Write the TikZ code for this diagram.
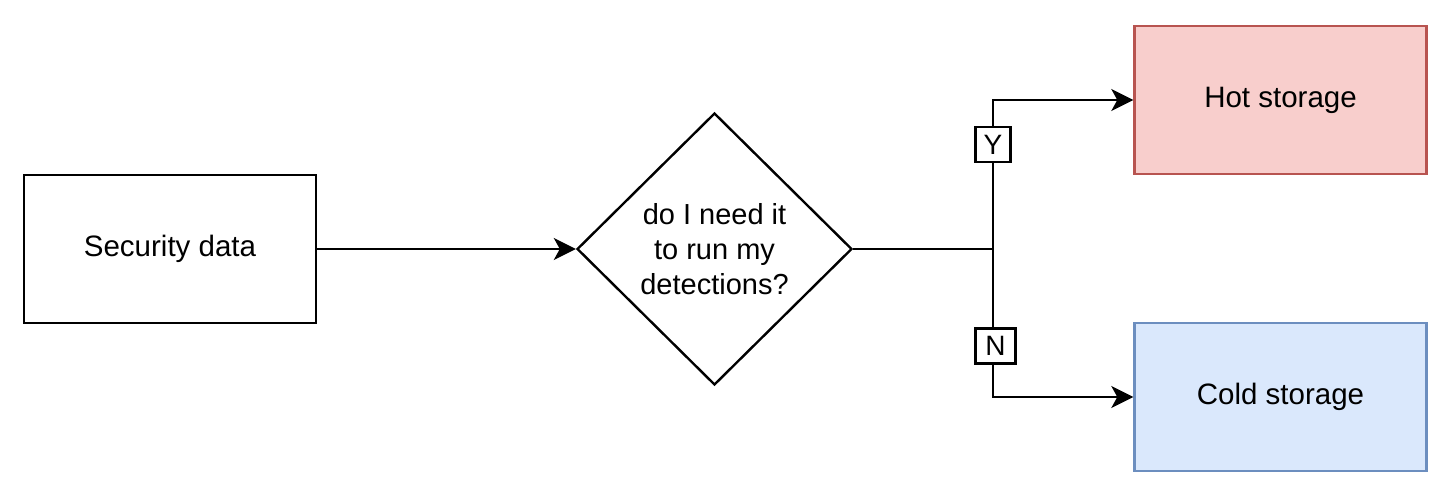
\documentclass[tikz,border=0pt]{standalone}
\usepackage{fontspec}
\setmainfont{Liberation Sans}
\usetikzlibrary{shapes.geometric,arrows.meta}
\definecolor{hotfill}{HTML}{F8CECC}
\definecolor{hotline}{HTML}{B85450}
\definecolor{coldfill}{HTML}{DAE8FC}
\definecolor{coldline}{HTML}{6C8EBF}
\tikzset{
  box/.style={draw, line width=2.4pt, minimum width=292pt, minimum height=148pt, inner sep=0pt, font=\fontsize{29.5}{35}\selectfont, align=center},
  dec/.style={draw, diamond, line width=2.4pt, minimum width=275pt, minimum height=272pt, inner sep=0pt, font=\fontsize{29}{35}\selectfont, align=center},
  tag/.style={draw, fill=white, line width=2.4pt, inner sep=0pt, minimum height=35pt, font=\fontsize{28}{30}\selectfont},
  conn/.style={line width=2.4pt},
  arr/.style={conn, -{Stealth[length=22pt, width=22pt, inset=6pt]}},
}
\begin{document}
\begin{tikzpicture}[x=1pt,y=-1pt]
\useasboundingbox (0,0) rectangle (1456,501);
\node[box] (sec) at (170,249) {\raisebox{-1.5pt}{Security data}};
\node[dec] (q) at (714.5,249) {do I need it\\to run my\\detections?};
\node[box, fill=hotfill, draw=hotline] (hot) at (1280.5,100) {\raisebox{-1.5pt}{Hot storage}};
\node[box, fill=coldfill, draw=coldline] (cold) at (1280.5,397) {\raisebox{-1.5pt}{Cold storage}};
\coordinate (j) at (993,249);
\draw[arr] (sec.east) -- (q.west);
\draw[conn] (q.east) -- (j);
\draw[arr] (j) |- (hot.west);
\draw[arr] (j) |- (cold.west);
\node[tag, minimum width=35pt] (y) at (993,144.5) {Y};
\node[tag, minimum width=40pt] (n) at (995.5,346) {N};
\end{tikzpicture}
\end{document}
